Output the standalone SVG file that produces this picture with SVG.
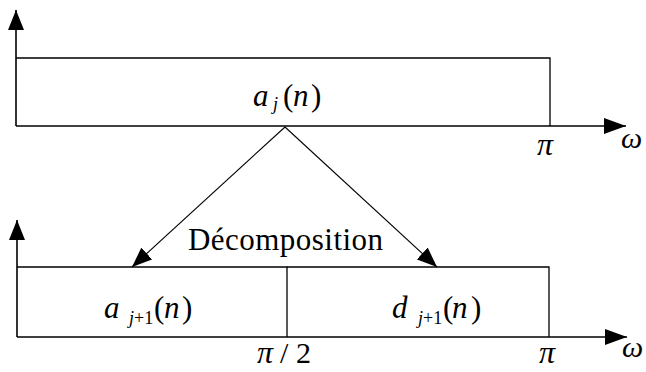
<svg xmlns="http://www.w3.org/2000/svg" width="646" height="372" viewBox="0 0 646 372">
<style>
.ax{stroke:#000;stroke-width:1.6;fill:none}
.bx{stroke:#000;stroke-width:1.3;fill:none}
.cn{stroke:#000;stroke-width:1.1;fill:none}
</style>
<defs>
<marker id="ah" viewBox="0 0 20 16" refX="20" refY="8" markerWidth="20" markerHeight="16" markerUnits="userSpaceOnUse" orient="auto"><path d="M0,0 L20,8 L0,16 z" fill="#000"/></marker>
<marker id="ah2" viewBox="0 0 22 16" refX="22" refY="8" markerWidth="22" markerHeight="16" markerUnits="userSpaceOnUse" orient="auto"><path d="M0,0 L22,8 L0,16 z" fill="#000"/></marker>
</defs>
<rect width="646" height="372" fill="#fff"/>
<g font-family="Liberation Serif, DejaVu Serif, serif" fill="#000">
<g id="top-axes">
<line class="ax" x1="16" y1="126" x2="16" y2="10" marker-end="url(#ah)"/>
<line class="ax" x1="16" y1="126" x2="626" y2="126" marker-end="url(#ah2)"/>
<text font-style="italic" x="537" y="155" font-size="32">π</text>
<text font-style="italic" x="621" y="148" font-size="30">ω</text>
</g>
<g id="node-aj">
<polyline class="bx" points="16,58 550,58 550,126"/>
<text font-style="italic" x="253" y="106" font-size="31">a</text>
<text font-style="italic" x="273" y="110" font-size="18">j</text>
<text x="283" y="106" font-size="31">(</text>
<text font-style="italic" x="293" y="106" font-size="31">n</text>
<text x="311" y="106" font-size="31">)</text>
</g>
<g id="bottom-axes">
<line class="ax" x1="17" y1="337" x2="17" y2="220" marker-end="url(#ah)"/>
<line class="ax" x1="17" y1="337" x2="627" y2="337" marker-end="url(#ah2)"/>
<text font-style="italic" x="257" y="363" font-size="32">π</text>
<text x="280" y="363" font-size="30">/</text>
<text x="296" y="363" font-size="30">2</text>
<text font-style="italic" x="539" y="363" font-size="32">π</text>
<text font-style="italic" x="622" y="357" font-size="30">ω</text>
</g>
<g id="node-aj1">
<polyline class="bx" points="17,267 287,267 287,337"/>
<text font-style="italic" x="104" y="318" font-size="31">a</text>
<text x="129" y="324" font-size="18"><tspan font-style="italic">j</tspan>+1</text>
<text x="154" y="318" font-size="31">(</text>
<text font-style="italic" x="164" y="318" font-size="31">n</text>
<text x="182" y="318" font-size="31">)</text>
</g>
<g id="node-dj1">
<polyline class="bx" points="287,267 549,267 549,337"/>
<text font-style="italic" x="392" y="318" font-size="31">d</text>
<text x="418" y="324" font-size="18"><tspan font-style="italic">j</tspan>+1</text>
<text x="443" y="318" font-size="31">(</text>
<text font-style="italic" x="452" y="318" font-size="31">n</text>
<text x="471" y="318" font-size="31">)</text>
</g>
<g id="connectors">
<line class="cn" x1="285" y1="127" x2="132" y2="267" marker-end="url(#ah)"/>
<line class="cn" x1="285" y1="127" x2="437" y2="267" marker-end="url(#ah)"/>
<text x="188" y="250" font-size="31" textLength="195" lengthAdjust="spacing">Décomposition</text>
</g>
</g>
</svg>
